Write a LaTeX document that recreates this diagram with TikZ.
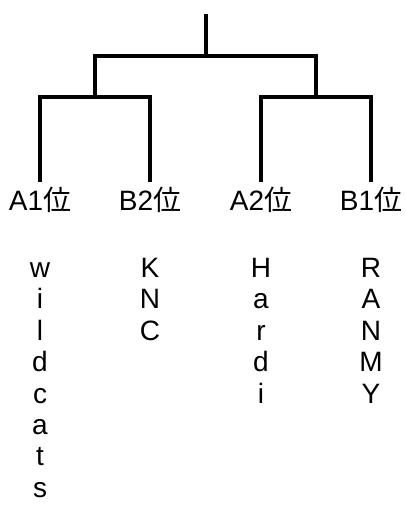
\documentclass[tikz,border=0pt]{standalone}
\usepackage{fontspec}
\setmainfont{Liberation Sans}
\newfontfamily\jpfont{Noto Sans CJK JP}
\usepackage{tikz}
\usetikzlibrary{positioning,calc}

\tikzset{
    bracket/.style={line width=2.4pt, line join=miter},
    seed/.style={anchor=base, inner sep=0pt, font=\fontsize{21pt}{23.55pt}\selectfont},
    team/.style={anchor=base, inner sep=0pt, font=\fontsize{21pt}{23.55pt}\selectfont}
}

\begin{document}
\begin{tikzpicture}[x=0.75pt, y=-0.75pt]
        \useasboundingbox (0,0) rectangle (405,507);

        \coordinate (top) at (206,14);
        \coordinate (final) at (206,56);
        \coordinate (semiL) at (95,97);
        \coordinate (semiR) at (316,97);
        \coordinate (leafA1) at (40,182);
        \coordinate (leafB2) at (150,182);
        \coordinate (leafA2) at (261,182);
        \coordinate (leafB1) at (371,182);

        \draw[bracket] (top) -- (final);
        \draw[bracket] (semiL) |- (final) -| (semiR);
        \draw[bracket] (leafA1) |- (semiL) -| (leafB2);
        \draw[bracket] (leafA2) |- (semiR) -| (leafB1);

        \node[seed] (a1) at (40,210) {A1{\jpfont 位}};
        \node[seed] (b2) at (150,210) {B2{\jpfont 位}};
        \node[seed] (a2) at (261,210) {A2{\jpfont 位}};
        \node[seed] (b1) at (371,210) {B1{\jpfont 位}};

        \node[team] (wildcats) at (40,277.5) {\begin{tabular}[t]{@{}c@{}}w\\i\\l\\d\\c\\a\\t\\s\end{tabular}};
        \node[team] (knc) at (150,277.5) {\begin{tabular}[t]{@{}c@{}}K\\N\\C\end{tabular}};
        \node[team] (hardi) at (261,277.5) {\begin{tabular}[t]{@{}c@{}}H\\a\\r\\d\\i\end{tabular}};
        \node[team] (ranmy) at (371,277.5) {\begin{tabular}[t]{@{}c@{}}R\\A\\N\\M\\Y\end{tabular}};
    \end{tikzpicture}
\end{document}
